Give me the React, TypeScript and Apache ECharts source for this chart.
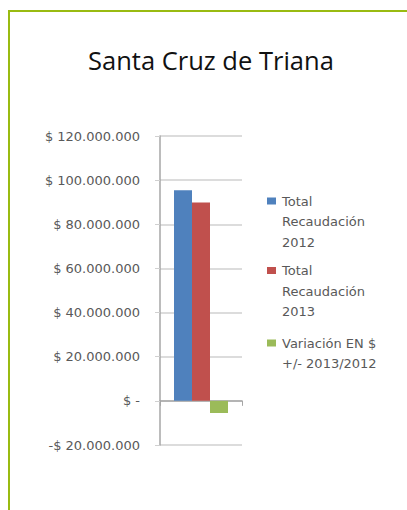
import React, { useEffect, useRef } from "react";
import * as echarts from "echarts";

const title = "Santa Cruz de Triana";
const categories = [""];
const seriesNames = [
  "Total Recaudación 2012",
  "Total Recaudación 2013",
  "Variación EN $ +/- 2013/2012",
];
const legendLines = [
  ["Total", "Recaudación", "2012"],
  ["Total", "Recaudación", "2013"],
  ["Variación EN $", "+/- 2013/2012"],
];
const recaudacion2012 = [95400000];
const recaudacion2013 = [89900000];
const variacion = [-5500000];
const colors = ["#4f81bd", "#c0504d", "#9bbb59"];
const yMin = -20000000;
const yMax = 120000000;
const yStep = 20000000;

function fmt(v: number): string {
  if (v === 0) return "$ -";
  const s = Math.abs(v)
    .toString()
    .replace(/\B(?=(\d{3})+(?!\d))/g, ".");
  return (v < 0 ? "-$ " : "$ ") + s;
}

export default function App() {
  const ref = useRef<HTMLDivElement>(null);
  useEffect(() => {
    if (!ref.current) return;
    const chart = echarts.init(ref.current, null, { renderer: "svg" });
    const seriesData = [recaudacion2012, recaudacion2013, variacion];
    const legendIconCenters = [201, 270.5, 343];
    const legends = seriesNames.map((name, i) => {
      const lines = legendLines[i];
      const blanks = lines.length - 1;
      const text = Array(blanks).fill("").concat(lines).join("\n");
      const half = ((blanks + lines.length) * 20.5) / 2;
      return {
        data: [name],
        orient: "vertical",
        left: 267,
        top: legendIconCenters[i] - half,
        padding: 0,
        itemWidth: 9,
        itemHeight: 7,
        itemGap: 0,
        icon: "rect",
        selectedMode: false,
        formatter: () => text,
        textStyle: {
          fontFamily: "DejaVu Sans",
          fontSize: 13,
          color: "#595959",
          lineHeight: 20.5,
          padding: [0, 0, 0, 1],
        },
      };
    });
    chart.setOption({
      animation: false,
      title: {
        text: title,
        left: 88,
        top: 47,
        padding: 0,
        textStyle: {
          fontFamily: "Open Sans",
          fontSize: 25.5,
          fontWeight: "normal",
          color: "#111",
        },
      },
      graphic: [
        { type: "rect", shape: { x: 8, y: 10, width: 2, height: 500 }, style: { fill: "#99bb11" } },
        { type: "rect", shape: { x: 8, y: 10, width: 399, height: 2 }, style: { fill: "#99bb11" } },
      ],
      legend: legends,
      grid: { left: 160, right: 165, top: 136, bottom: 65, containLabel: false },
      xAxis: {
        type: "category",
        data: categories,
        axisLine: { onZero: true, lineStyle: { color: "#a6a6a6", width: 1.5 } },
        axisTick: { show: true, length: 5, lineStyle: { color: "#a6a6a6" } },
        axisLabel: { show: false },
        splitLine: { show: false },
      },
      yAxis: {
        type: "value",
        min: yMin,
        max: yMax,
        interval: yStep,
        axisLine: { show: true, lineStyle: { color: "#a6a6a6", width: 1.5 } },
        axisTick: { show: true, length: 5, lineStyle: { color: "#d0d0d0" } },
        axisLabel: {
          formatter: (v: number) => fmt(v),
          fontFamily: "DejaVu Sans",
          fontSize: 13,
          color: "#595959",
          margin: 20,
        },
        splitLine: { show: true, lineStyle: { color: "#d0d0d0", width: 1.5 } },
      },
      series: seriesNames.map((name, i) => ({
        name,
        type: "bar",
        data: seriesData[i],
        barWidth: 18,
        barGap: "0%",
        itemStyle: { color: colors[i] },
      })),
    });
    return () => chart.dispose();
  }, []);
  return (
    <div
      ref={ref}
      style={{ position: "fixed", left: 0, top: 0, width: 407, height: 510, background: "#fff" }}
    />
  );
}
